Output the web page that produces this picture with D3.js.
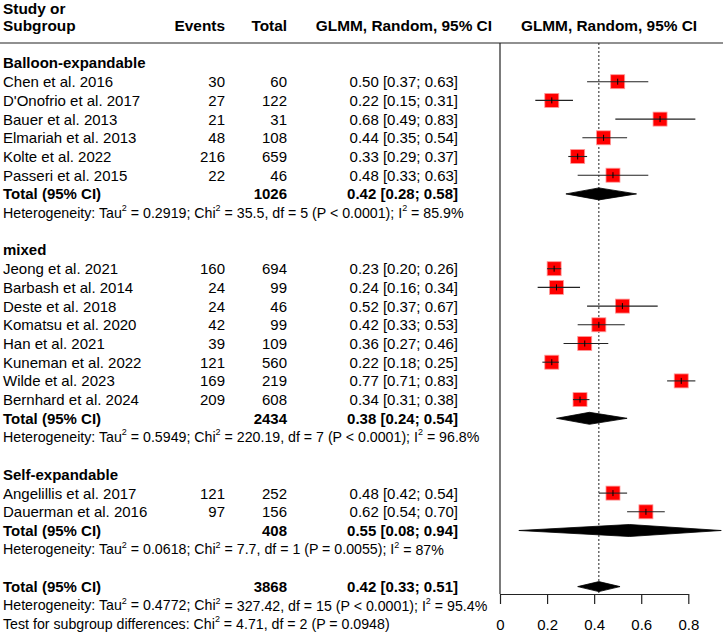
<!DOCTYPE html>
<html>
<head>
<meta charset="utf-8">
<script src="https://cdn.jsdelivr.net/npm/d3@7"></script>
<style>
  html, body { margin: 0; padding: 0; background: #fff; }
  svg { display: block; }
  text { font-family: "Liberation Sans", Arial, sans-serif; fill: #000; }
</style>
</head>
<body>
<svg id="chart" width="723" height="634"></svg>
<script>
// ---------------- DATA ----------------
const groups = ["Balloon-expandable", "mixed", "Self-expandable"];

const studies = [
  "Chen et al. 2016", "D'Onofrio et al. 2017", "Bauer et al. 2013", "Elmariah et al. 2013",
  "Kolte et al. 2022", "Passeri et al. 2015",
  "Jeong et al. 2021", "Barbash et al. 2014", "Deste et al. 2018", "Komatsu et al. 2020",
  "Han et al. 2021", "Kuneman et al. 2022", "Wilde et al. 2023", "Bernhard et al. 2024",
  "Angelillis et al. 2017", "Dauerman et al. 2016"
];
const studyGroup = [0,0,0,0,0,0, 1,1,1,1,1,1,1,1, 2,2];
const events = [30, 27, 21, 48, 216, 22, 160, 24, 24, 42, 39, 121, 169, 209, 121, 97];
const totals = [60, 122, 31, 108, 659, 46, 694, 99, 46, 99, 109, 560, 219, 608, 252, 156];
const est = [0.50, 0.22, 0.68, 0.44, 0.33, 0.48, 0.23, 0.24, 0.52, 0.42, 0.36, 0.22, 0.77, 0.34, 0.48, 0.62];
const lower = [0.37, 0.15, 0.49, 0.35, 0.29, 0.33, 0.20, 0.16, 0.37, 0.33, 0.27, 0.18, 0.71, 0.31, 0.42, 0.54];
const upper = [0.63, 0.31, 0.83, 0.54, 0.37, 0.63, 0.26, 0.34, 0.67, 0.53, 0.46, 0.25, 0.83, 0.38, 0.54, 0.70];

const groupN = [1026, 2434, 408];
const groupEst = [0.42, 0.38, 0.55];
const groupLower = [0.28, 0.24, 0.08];
const groupUpper = [0.58, 0.54, 0.94];
const groupTau2 = ["0.2919", "0.5949", "0.0618"];
const groupChi2 = ["35.5", "220.19", "7.7"];
const groupDf = [5, 7, 1];
const groupP = ["P < 0.0001", "P < 0.0001", "P = 0.0055"];
const groupI2 = ["85.9%", "96.8%", "87%"];

const overallN = 3868, overallEst = 0.42, overallLower = 0.33, overallUpper = 0.51;
const overallTau2 = "0.4772", overallChi2 = "327.42", overallDf = 15, overallP = "P < 0.0001", overallI2 = "95.4%";
const subgroupChi2 = "4.71", subgroupDf = 2, subgroupP = "P = 0.0948";

const tickValues = [0, 0.2, 0.4, 0.6, 0.8];
const effectHeader = "GLMM, Random, 95% CI";

// ---------------- LAYOUT ----------------
const svg = d3.select("#chart");
const x = d3.scaleLinear().domain([0, 0.8]).range([500, 688.3]);
const rowY = d3.scaleLinear().domain([0, 1]).range([63, 81.7]); // row index -> y centre
const FS = 15, FS_HET = 14.2, FS_HEAD = 15.4;
const colName = 3, colEvents = 225, colTotal = 287, colEst = 458;
const plotTop = 43, axisY = 594;
const fmt2 = d3.format(".2f");
const ciText = (e, l, u) => `${fmt2(e)} [${fmt2(l)}; ${fmt2(u)}]`;

// build row list
const rows = [];
let r = 0;
groups.forEach((g, gi) => {
  rows.push({type: "group", idx: r++, label: g});
  studies.forEach((s, si) => { if (studyGroup[si] === gi) rows.push({type: "study", idx: r++, si}); });
  rows.push({type: "gtotal", idx: r++, gi});
  rows.push({type: "ghet", idx: r++, gi});
  r++; // blank
});
rows.push({type: "ototal", idx: r++});
rows.push({type: "ohet", idx: r++});
rows.push({type: "subtest", idx: r++});

function addText(y, xpos, str, opts = {}) {
  return svg.append("text")
    .attr("x", xpos).attr("y", y).attr("dy", "0.36em")
    .attr("text-anchor", opts.anchor || "start")
    .attr("font-size", opts.size || FS)
    .attr("font-weight", opts.bold ? "bold" : "normal")
    .text(str);
}
function addHet(y, parts) {
  const t = svg.append("text").attr("x", colName).attr("y", y).attr("dy", "0.36em")
    .attr("font-size", FS_HET);
  let prevSup = false;
  parts.forEach(([s, sup]) => {
    const ts = t.append("tspan").text(s);
    if (sup) { ts.attr("font-size", 9).attr("dy", "-0.75em"); }
    else if (prevSup) { ts.attr("dy", "0.48em"); }
    prevSup = sup;
  });
}
function hetParts(tau, chi, df, p, i2) {
  return [["Heterogeneity: Tau", false], ["2", true], [` = ${tau}; Chi`, false], ["2", true],
          [` = ${chi}, df = ${df} (${p}); I`, false], ["2", true], [` = ${i2}`, false]];
}

// ---------------- HEADER ----------------
addText(8, colName, "Study or", {bold: true, size: FS_HEAD});
addText(25, colName, "Subgroup", {bold: true, size: FS_HEAD});
addText(25, colEvents, "Events", {bold: true, anchor: "end", size: FS_HEAD});
addText(25, colTotal, "Total", {bold: true, anchor: "end", size: FS_HEAD});
addText(25, 492, effectHeader, {bold: true, anchor: "end", size: FS_HEAD});
addText(25, 609, effectHeader, {bold: true, anchor: "middle", size: FS_HEAD});
svg.append("line").attr("x1", 0).attr("x2", 723).attr("y1", plotTop).attr("y2", plotTop)
  .attr("stroke", "#222").attr("stroke-width", 1.2);

// vertical left line and dotted reference line
svg.append("line").attr("x1", x(0)).attr("x2", x(0)).attr("y1", plotTop).attr("y2", axisY)
  .attr("stroke", "#222").attr("stroke-width", 1.2);
svg.append("line").attr("x1", x(overallEst)).attr("x2", x(overallEst)).attr("y1", plotTop).attr("y2", axisY)
  .attr("stroke", "#222").attr("stroke-width", 1).attr("stroke-dasharray", "2,2");

// ---------------- ROWS ----------------
const sq = 14;
function diamond(y, e, l, u, h) {
  const pts = [[x(l), y], [x(e), y - h / 2], [x(u), y], [x(e), y + h / 2]];
  svg.append("path").attr("d", d3.line()(pts) + "Z").attr("fill", "#000")
    .attr("stroke", "#000").attr("stroke-width", 0.8);
}

rows.forEach(row => {
  const y = rowY(row.idx);
  if (row.type === "group") {
    addText(y, colName, row.label, {bold: true});
  } else if (row.type === "study") {
    const i = row.si;
    addText(y, colName, studies[i]);
    addText(y, colEvents, events[i], {anchor: "end"});
    addText(y, colTotal, totals[i], {anchor: "end"});
    addText(y, colEst, ciText(est[i], lower[i], upper[i]), {anchor: "end"});
    svg.append("rect").attr("x", x(est[i]) - sq / 2).attr("y", y - sq / 2)
      .attr("width", sq).attr("height", sq).attr("fill", "#ff0000")
      .attr("stroke", "#ff9a9a").attr("stroke-width", 0.8);
    svg.append("line").attr("x1", x(lower[i])).attr("x2", x(upper[i])).attr("y1", y).attr("y2", y)
      .attr("stroke", "#222").attr("stroke-width", 1.1);
    svg.append("line").attr("x1", x(est[i])).attr("x2", x(est[i])).attr("y1", y - 3).attr("y2", y + 3)
      .attr("stroke", "#000").attr("stroke-width", 1);
  } else if (row.type === "gtotal") {
    const g = row.gi;
    addText(y, colName, "Total (95% CI)", {bold: true});
    addText(y, colTotal, groupN[g], {bold: true, anchor: "end"});
    addText(y, colEst, ciText(groupEst[g], groupLower[g], groupUpper[g]), {bold: true, anchor: "end"});
    diamond(y, groupEst[g], groupLower[g], groupUpper[g], 12);
  } else if (row.type === "ghet") {
    const g = row.gi;
    addHet(y, hetParts(groupTau2[g], groupChi2[g], groupDf[g], groupP[g], groupI2[g]));
  } else if (row.type === "ototal") {
    addText(y, colName, "Total (95% CI)", {bold: true});
    addText(y, colTotal, overallN, {bold: true, anchor: "end"});
    addText(y, colEst, ciText(overallEst, overallLower, overallUpper), {bold: true, anchor: "end"});
    diamond(y, overallEst, overallLower, overallUpper, 10);
  } else if (row.type === "ohet") {
    addHet(y, hetParts(overallTau2, overallChi2, overallDf, overallP, overallI2));
  } else if (row.type === "subtest") {
    addHet(y, [["Test for subgroup differences: Chi", false], ["2", true],
               [` = ${subgroupChi2}, df = ${subgroupDf} (${subgroupP})`, false]]);
  }
});

// ---------------- AXIS ----------------
const axis = d3.axisBottom(x).tickValues(tickValues)
  .tickFormat(d => d === 0 ? "0" : d3.format(".1f")(d))
  .tickSize(10).tickSizeOuter(0).tickPadding(15);
const ax = svg.append("g").attr("transform", `translate(0,${axisY})`).call(axis);
ax.select(".domain").attr("stroke", "#222").attr("stroke-width", 1.2);
ax.selectAll(".tick line").attr("stroke", "#222").attr("stroke-width", 1.2);
ax.selectAll(".tick text").attr("font-size", FS).attr("font-family", "Liberation Sans, Arial, sans-serif")
  .attr("fill", "#000");
</script>
</body>
</html>
